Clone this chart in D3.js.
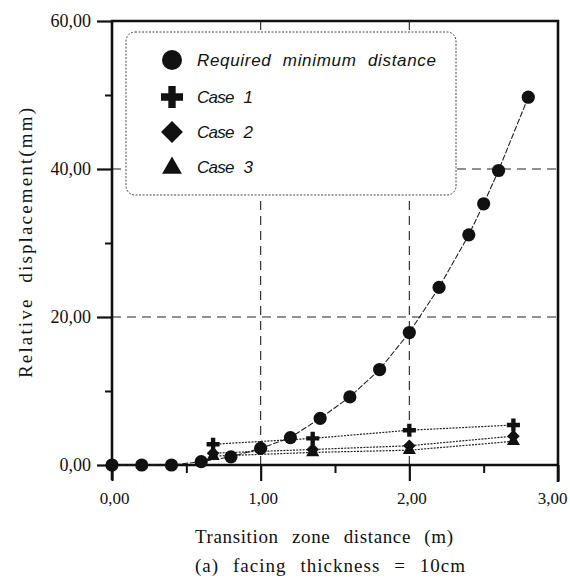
<!DOCTYPE html>
<html>
<head>
<meta charset="utf-8">
<script src="https://cdn.jsdelivr.net/npm/d3@7"></script>
<style>
  html, body { margin: 0; padding: 0; background: #fff; }
  svg { display: block; }
</style>
</head>
<body>
<svg id="chart" width="570" height="579"></svg>
<script>
// ---------- data ----------
const rmdX = [0, 0.2, 0.4, 0.6, 0.8, 1.0, 1.2, 1.4, 1.6, 1.8, 2.0, 2.2, 2.4, 2.5, 2.6, 2.8];
const rmdY = [0, 0, 0, 0.45, 1.1, 2.25, 3.7, 6.3, 9.2, 12.9, 17.9, 24.0, 31.1, 35.3, 39.8, 49.7];

const caseX = [0.68, 1.35, 2.0, 2.7];
const case1Y = [2.8, 3.6, 4.7, 5.4];
const case2Y = [1.6, 2.1, 2.6, 3.9];
const case3Y = [1.2, 1.7, 2.0, 3.2];

const originX = [0];   // extra Case 2 marker at origin
const originY = [0];

const seriesNames = ["Required minimum distance", "Case 1", "Case 2", "Case 3"];
const xTicks = [0, 1, 2, 3];
const xMinorTicks = [0.5, 1.5, 2.5];
const yTicks = [0, 20, 40, 60];
const yMinorTicks = [10, 30, 50];
const xGrid = [1, 2];
const yGrid = [20, 40];
const xTitle = "Transition zone distance (m)";
const yTitle = "Relative displacement(mm)";
const caption = "(a) facing thickness = 10cm";

// ---------- layout ----------
const svg = d3.select("#chart");
const L = 112, R = 558, T = 21, B = 465;
const x = d3.scaleLinear().domain([0, 3]).range([L, R]);
const y = d3.scaleLinear().domain([0, 60]).range([B, T]);
const ink = "#111";
const fmt = d => d3.format(".2f")(d).replace(".", ",");

// grid lines
svg.append("g").selectAll("line").data(xGrid).join("line")
  .attr("x1", d => x(d)).attr("x2", d => x(d))
  .attr("y1", B).attr("y2", T)
  .attr("stroke", "#222").attr("stroke-width", 1.1)
  .attr("stroke-dasharray", "9,6");
svg.append("g").selectAll("line").data(yGrid).join("line")
  .attr("x1", L).attr("x2", R)
  .attr("y1", d => y(d)).attr("y2", d => y(d))
  .attr("stroke", "#222").attr("stroke-width", 1.1)
  .attr("stroke-dasharray", "9,6");

// axes (left & bottom with d3 axes)
const xAxis = d3.axisBottom(x).tickValues(xTicks).tickFormat(fmt).tickSize(16).tickPadding(11);
const gx = svg.append("g").attr("transform", `translate(0,${B})`).call(xAxis);
gx.select(".domain").remove();
gx.selectAll(".tick line").attr("stroke", ink).attr("stroke-width", 2.2);
gx.selectAll(".tick text").attr("font-family", "'Liberation Serif', serif")
  .attr("font-size", 17).attr("fill", ink)
  .attr("dx", d => d === 3 ? -6 : 2);

const xAxisMinor = d3.axisBottom(x).tickValues(xMinorTicks).tickFormat("").tickSize(8);
const gxm = svg.append("g").attr("transform", `translate(0,${B})`).call(xAxisMinor);
gxm.select(".domain").remove();
gxm.selectAll(".tick line").attr("stroke", ink).attr("stroke-width", 2);

const yAxis = d3.axisLeft(y).tickValues(yTicks).tickFormat(fmt).tickSize(15).tickPadding(6);
const gy = svg.append("g").attr("transform", `translate(${L},0)`).call(yAxis);
gy.select(".domain").remove();
gy.selectAll(".tick line").attr("stroke", ink).attr("stroke-width", 2.2);
gy.selectAll(".tick text").attr("font-family", "'Liberation Serif', serif")
  .attr("font-size", 18).attr("fill", ink);

const yAxisMinor = d3.axisLeft(y).tickValues(yMinorTicks).tickFormat("").tickSize(7);
const gym = svg.append("g").attr("transform", `translate(${L},0)`).call(yAxisMinor);
gym.select(".domain").remove();
gym.selectAll(".tick line").attr("stroke", ink).attr("stroke-width", 2);

// frame
const frame = svg.append("g").attr("stroke", ink).attr("stroke-width", 2.6).attr("fill", "none");
frame.append("line").attr("x1", L).attr("x2", L).attr("y1", T - 1).attr("y2", B + 15);
frame.append("line").attr("x1", L - 1).attr("x2", R + 1).attr("y1", B).attr("y2", B);
frame.append("line").attr("x1", L - 1).attr("x2", R + 1).attr("y1", T).attr("y2", T);
frame.append("line").attr("x1", R).attr("x2", R).attr("y1", T - 1).attr("y2", B + 17);

// ---------- legend box (white, covers grid) ----------
svg.append("rect")
  .attr("x", 126).attr("y", 32).attr("width", 330).attr("height", 163)
  .attr("rx", 9).attr("ry", 9)
  .attr("fill", "#fff").attr("stroke", "#444").attr("stroke-width", 1)
  .attr("stroke-dasharray", "2,1.5");

// ---------- series ----------
const line = d3.line().x(d => x(d[0])).y(d => y(d[1]));
const zip = (xs, ys) => xs.map((v, i) => [v, ys[i]]);

const rmd = zip(rmdX, rmdY);
const c1 = zip(caseX, case1Y);
const c2 = zip(caseX, case2Y);
const c3 = zip(caseX, case3Y);
const origin = zip(originX, originY);

[c1, c2, c3].forEach(data => {
  svg.append("path").datum(data).attr("d", line)
    .attr("fill", "none").attr("stroke", "#222").attr("stroke-width", 1.2)
    .attr("stroke-dasharray", "2,1.2");
});
svg.append("path").datum(rmd).attr("d", line)
  .attr("fill", "none").attr("stroke", "#222").attr("stroke-width", 1.1)
  .attr("stroke-dasharray", "6,1.8");

const symCross = s => d3.symbol().type(d3.symbolCross).size(s)();
const symDiamond = s => d3.symbol().type(d3.symbolSquare).size(s)();
const symTri = s => d3.symbol().type(d3.symbolTriangle).size(s)();

function markers(data, kind, size) {
  const g = svg.append("g");
  if (kind === "circle") {
    g.selectAll("circle").data(data).join("circle")
      .attr("cx", d => x(d[0])).attr("cy", d => y(d[1])).attr("r", size).attr("fill", ink);
  } else {
    const p = kind === "cross" ? symCross(size) : kind === "diamond" ? symDiamond(size) : symTri(size);
    g.selectAll("path").data(data).join("path")
      .attr("d", p).attr("fill", ink)
      .attr("transform", d => `translate(${x(d[0])},${y(d[1])})` + (kind === "diamond" ? " rotate(45)" : ""));
  }
}
markers(c3, "triangle", 75);
markers(c2, "diamond", 80);
markers(origin, "diamond", 85);
markers(c1, "cross", 95);
markers(rmd, "circle", 6.6);

// ---------- legend entries ----------
const legendKinds = ["circle", "cross", "diamond", "triangle"];
const legendY = [60, 97, 132, 167];
const legendLen = [239, 56, 56, 56];
const lg = svg.append("g");
seriesNames.forEach((name, i) => {
  const cx = 172, cy = legendY[i];
  const k = legendKinds[i];
  if (k === "circle") lg.append("circle").attr("cx", cx).attr("cy", cy).attr("r", 10).attr("fill", ink);
  else if (k === "cross") lg.append("path").attr("d", symCross(270)).attr("transform", `translate(${cx},${cy})`).attr("fill", ink);
  else if (k === "diamond") lg.append("path").attr("d", symDiamond(240)).attr("transform", `translate(${cx},${cy}) rotate(45)`).attr("fill", ink);
  else lg.append("path").attr("d", symTri(170)).attr("transform", `translate(${cx},${cy + 1})`).attr("fill", ink);
  lg.append("text").attr("x", 197).attr("y", cy + 6)
    .attr("font-family", "'Liberation Sans', Arial, sans-serif")
    .attr("font-style", "italic").attr("font-size", 17).attr("fill", ink)
    .attr("word-spacing", 6)
    .attr("textLength", legendLen[i]).attr("lengthAdjust", "spacing")
    .text(name);
});

// ---------- titles ----------
svg.append("text").attr("x", 195).attr("y", 543)
  .attr("font-family", "'Liberation Serif', serif").attr("font-size", 19).attr("fill", ink)
  .attr("word-spacing", 8)
  .attr("textLength", 258).attr("lengthAdjust", "spacing")
  .text(xTitle);
svg.append("text").attr("x", 195).attr("y", 572)
  .attr("font-family", "'Liberation Serif', serif").attr("font-size", 19).attr("fill", ink)
  .attr("word-spacing", 8)
  .attr("textLength", 270).attr("lengthAdjust", "spacing")
  .text(caption);
svg.append("text")
  .attr("transform", "translate(32,378) rotate(-90)")
  .attr("font-family", "'Liberation Serif', serif").attr("font-size", 19).attr("fill", ink)
  .attr("word-spacing", 8)
  .attr("textLength", 270).attr("lengthAdjust", "spacing")
  .text(yTitle);
</script>
</body>
</html>
